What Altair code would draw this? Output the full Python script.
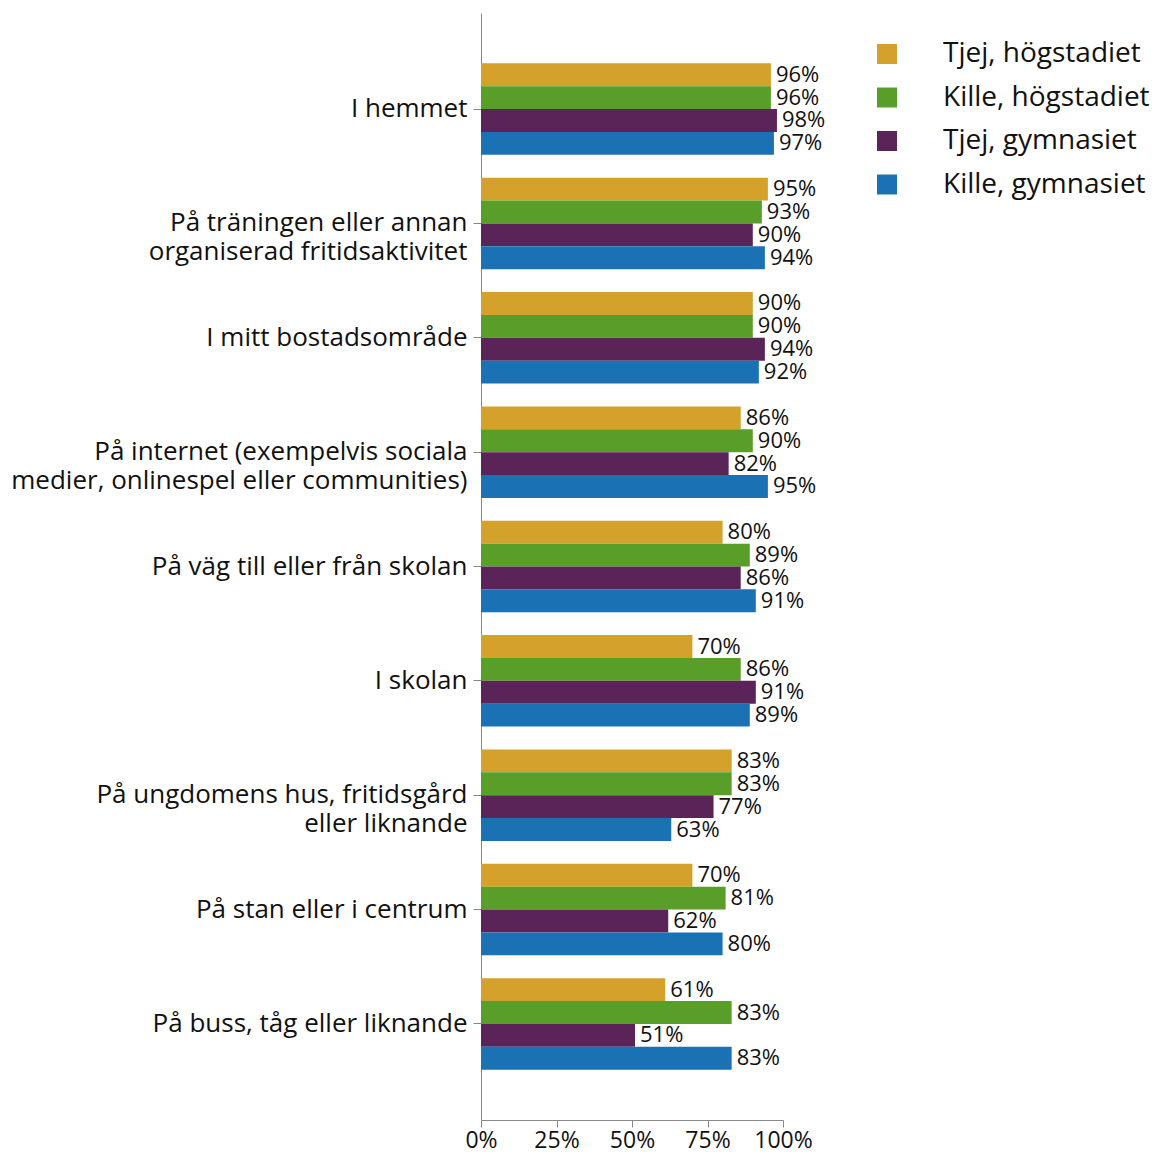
import altair as alt
import pandas as pd

categories = [
    "I hemmet",
    "På träningen eller annan|organiserad fritidsaktivitet",
    "I mitt bostadsområde",
    "På internet (exempelvis sociala|medier, onlinespel eller communities)",
    "På väg till eller från skolan",
    "I skolan",
    "På ungdomens hus, fritidsgård|eller liknande",
    "På stan eller i centrum",
    "På buss, tåg eller liknande",
]
series = ["Tjej, högstadiet", "Kille, högstadiet", "Tjej, gymnasiet", "Kille, gymnasiet"]
colors = ["#D4A12A", "#5A9E2A", "#5B2459", "#1A72B4"]

tjej_hog = [96, 95, 90, 86, 80, 70, 83, 70, 61]
kille_hog = [96, 93, 90, 90, 89, 86, 83, 81, 83]
tjej_gym = [98, 90, 94, 82, 86, 91, 77, 62, 51]
kille_gym = [97, 94, 92, 95, 91, 89, 63, 80, 83]

rows = []
for s, vals in zip(series, [tjej_hog, kille_hog, tjej_gym, kille_gym]):
    for c, v in zip(categories, vals):
        rows.append({"cat": c, "serie": s, "value": v / 100.0, "label": f"{v}%"})
df = pd.DataFrame(rows)

FONT = "Open Sans"

y_enc = alt.Y(
    "cat:N",
    sort=categories,
    title=None,
    scale=alt.Scale(paddingInner=0.2, paddingOuter=0.44),
    axis=alt.Axis(
        labelExpr="split(datum.label, '|')",
        labelFontSize=26,
        labelLineHeight=29,
        labelFont=FONT,
        labelColor="#111",
        labelLimit=600,
        labelPadding=6,
        tickSize=8,
        tickColor="#888",
        domainColor="#888",
        grid=False,
        minExtent=468,
    ),
)
yoff = alt.YOffset("serie:N", sort=series, scale=alt.Scale(paddingInner=0, paddingOuter=0))

base = alt.Chart(df).encode(y=y_enc, yOffset=yoff)

bars = base.mark_bar().encode(
    x=alt.X(
        "value:Q",
        title=None,
        scale=alt.Scale(domain=[0, 1]),
        axis=alt.Axis(
            format=".0%",
            values=[0, 0.25, 0.5, 0.75, 1],
            labelFontSize=23,
            labelFont=FONT,
            labelColor="#111",
            labelOverlap=False,
            labelFlush=False,
            tickSize=7,
            tickColor="#888",
            domainColor="#888",
            grid=False,
            labelPadding=2,
        ),
    ),
    color=alt.Color(
        "serie:N",
        sort=series,
        scale=alt.Scale(domain=series, range=colors),
        legend=alt.Legend(
            title=None,
            orient="none",
            legendX=392,
            legendY=27,
            symbolType="square",
            symbolSize=400,
            symbolStrokeWidth=0,
            labelFontSize=28,
            labelFont=FONT,
            labelColor="#111",
            labelLimit=400,
            labelOffset=42,
            rowPadding=15.5,
        ),
    ),
)

texts = base.mark_text(align="left", baseline="middle", dx=5, fontSize=22, font=FONT, color="#111").encode(
    x="value:Q",
    text="label:N",
)

chart = (
    alt.layer(bars, texts, view=alt.ViewBackground(stroke="transparent", strokeOpacity=0))
    .properties(width=302, height=1107)
    .configure_view(stroke="transparent", strokeWidth=0, strokeOpacity=0)
    .configure(padding={"left": 2, "top": 5, "right": 5, "bottom": 0})
)

chart.save("out.html", embed_options={"renderer": "svg", "actions": False})
